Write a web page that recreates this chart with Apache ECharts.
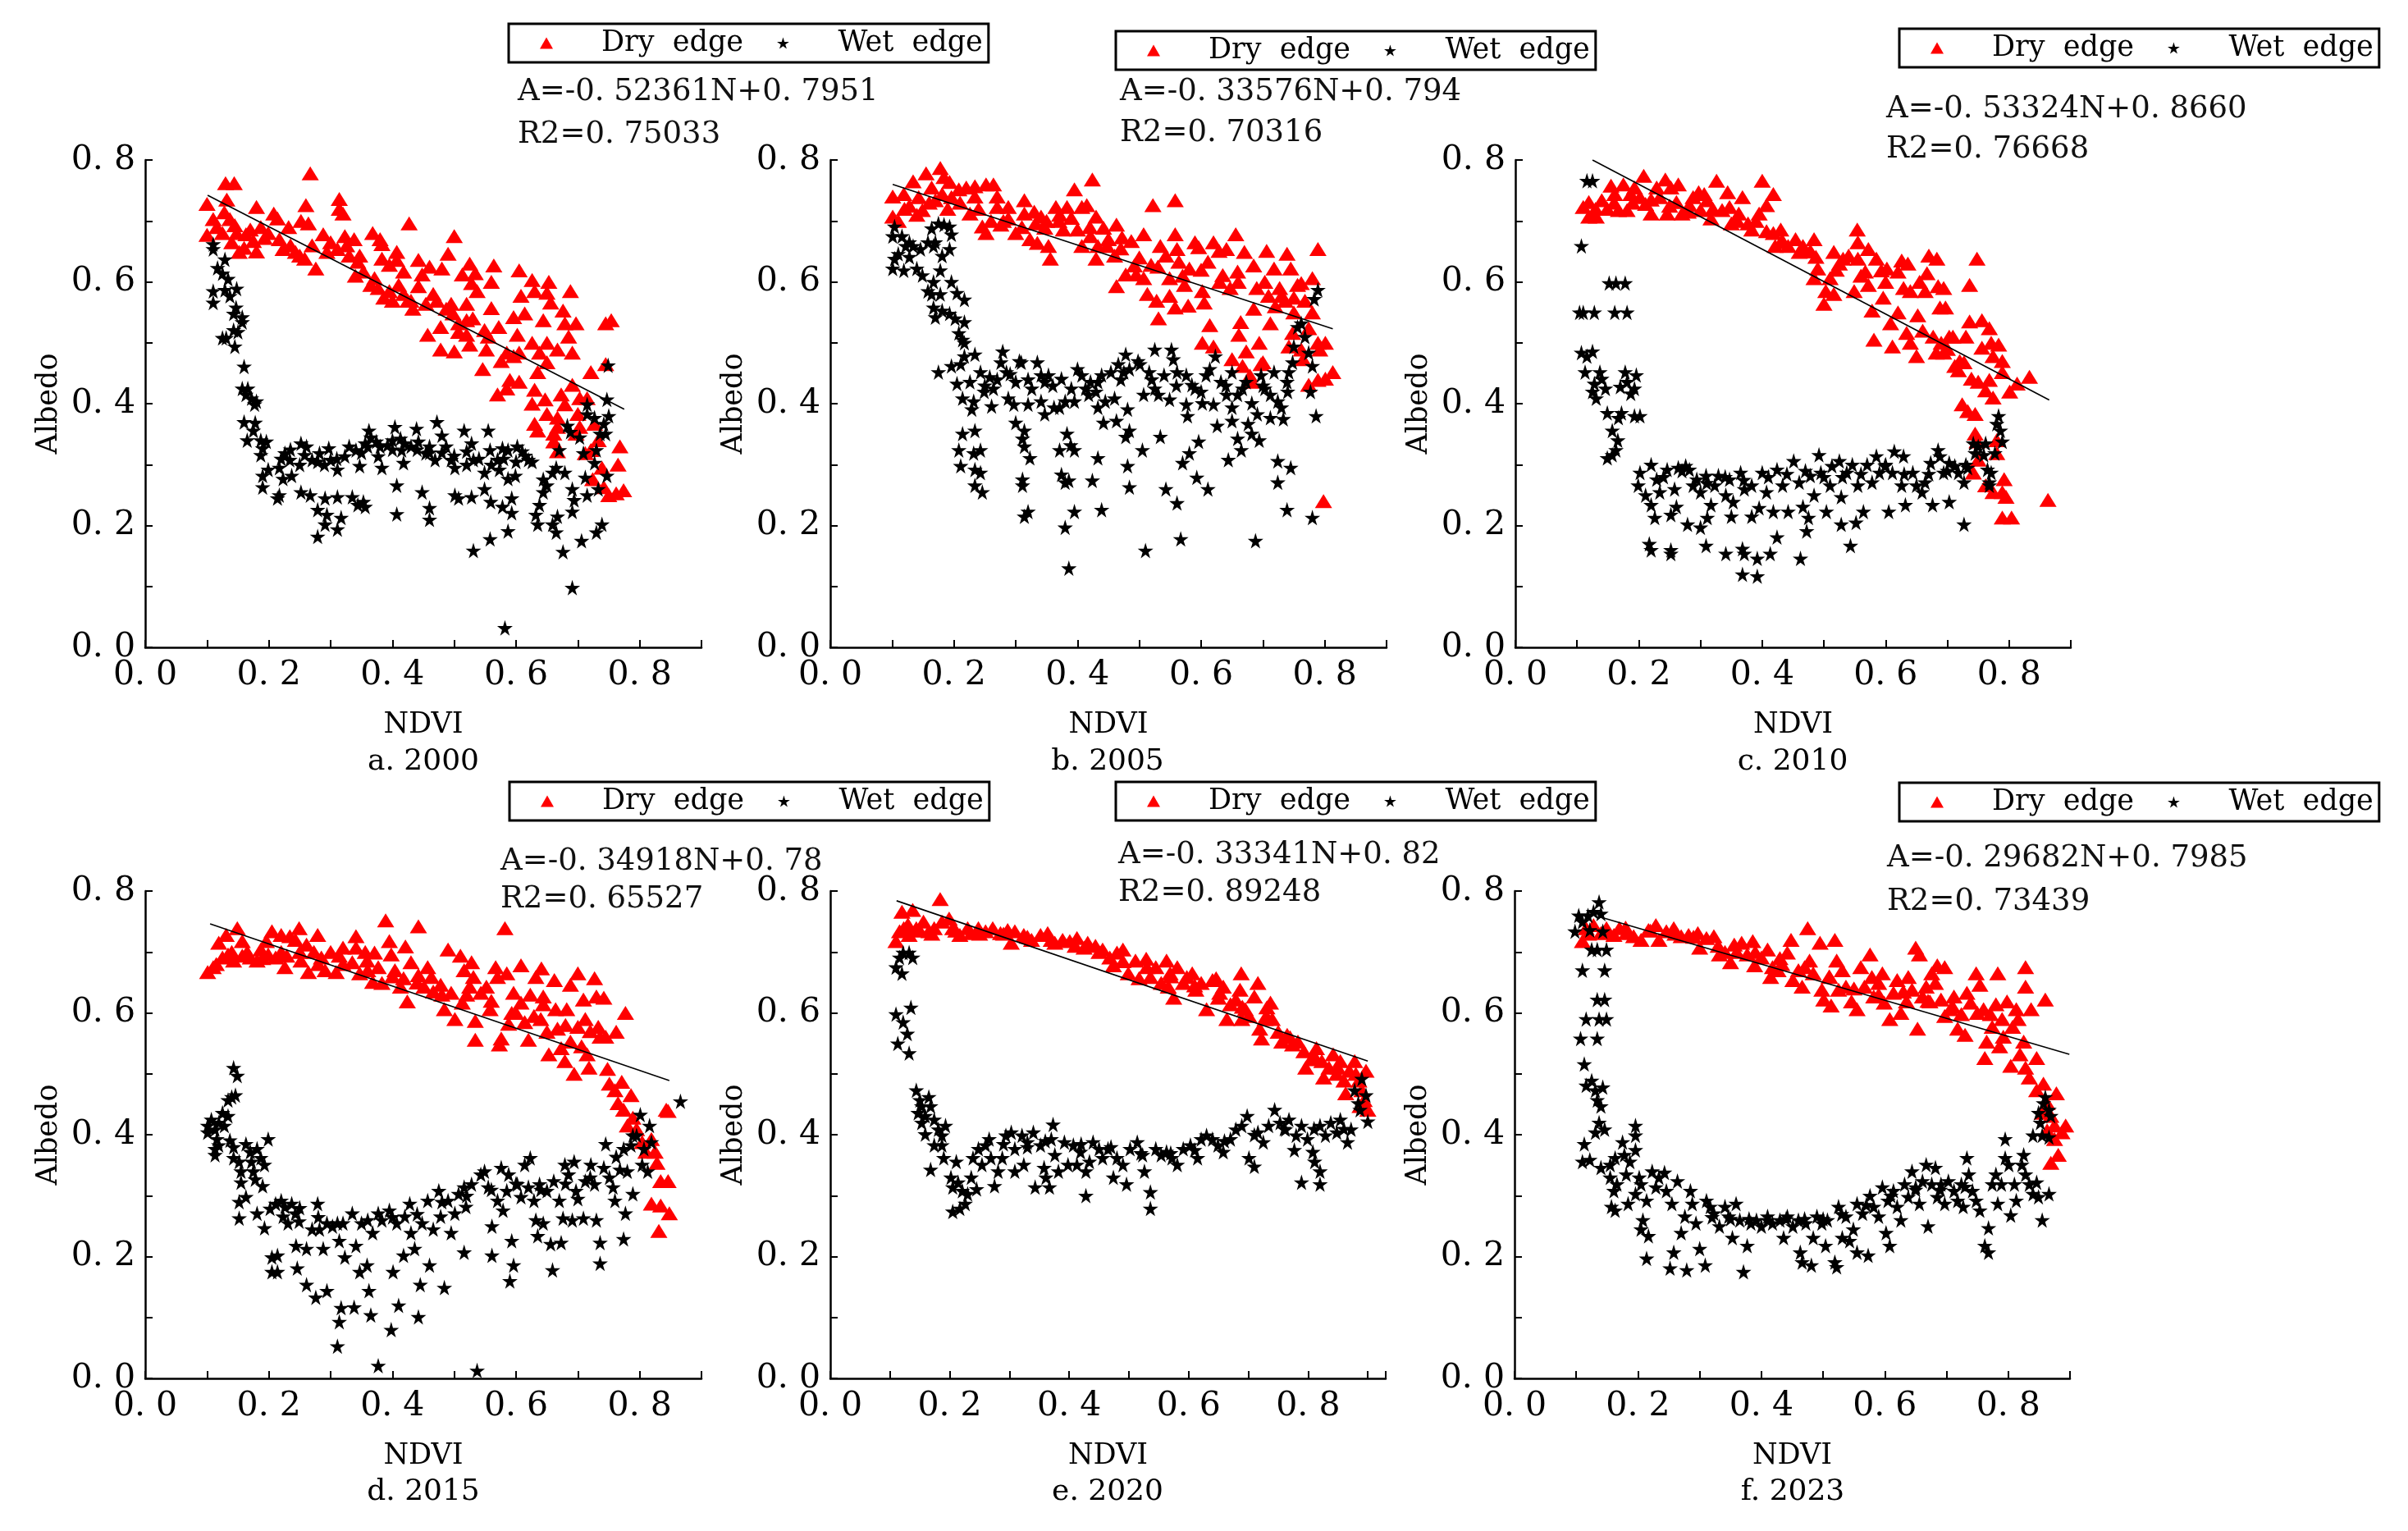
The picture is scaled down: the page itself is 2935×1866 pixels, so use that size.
<!DOCTYPE html>
<html lang="en">
<head>
<meta charset="UTF-8">
<title>Dry and wet edges, NDVI vs Albedo</title>
<script src="https://cdn.jsdelivr.net/npm/echarts@6/dist/echarts.min.js"></script>
<style>
  html, body { margin: 0; padding: 0; background: #fff; }
  #chart { width: 2935px; height: 1866px; }
</style>
</head>
<body>
<div id="chart"></div>
<script>
// panel texts
const panelCaptions = ['a. 2000', 'b. 2005', 'c. 2010', 'd. 2015', 'e. 2020', 'f. 2023'];
const equations = ['A=-0. 52361N+0. 7951', 'A=-0. 33576N+0. 794', 'A=-0. 53324N+0. 8660',
                   'A=-0. 34918N+0. 78', 'A=-0. 33341N+0. 82', 'A=-0. 29682N+0. 7985'];
const r2Texts = ['R2=0. 75033', 'R2=0. 70316', 'R2=0. 76668', 'R2=0. 65527', 'R2=0. 89248', 'R2=0. 73439'];
const xMax = [0.9, 0.9, 0.9, 0.9, 0.93, 0.9];
const yMax = 0.8;

// fitted lines as drawn: [start, end]
const fitLines = [
  [[0.101, 0.742], [0.775, 0.391]],
  [[0.101, 0.760], [0.813, 0.523]],
  [[0.125, 0.800], [0.865, 0.406]],
  [[0.105, 0.746], [0.848, 0.489]],
  [[0.111, 0.784], [0.900, 0.521]],
  [[0.137, 0.758], [0.899, 0.532]]
];

const dry2000 = [[0.10,0.728],[0.13,0.762],[0.144,0.762],[0.267,0.778],[0.132,0.735],[0.11,0.703],[0.10,0.677],[0.137,0.703],[0.148,0.68],[0.152,0.649],[0.18,0.723],[0.18,0.65],[0.208,0.712],[0.214,0.704],[0.232,0.69],[0.223,0.654],[0.25,0.643],[0.26,0.726],[0.252,0.70],[0.264,0.696],[0.276,0.622],[0.288,0.678],[0.30,0.665],[0.314,0.736],[0.314,0.72],[0.32,0.712],[0.323,0.675],[0.338,0.67],[0.33,0.643],[0.344,0.633],[0.368,0.68],[0.38,0.67],[0.383,0.662],[0.34,0.61],[0.365,0.595],[0.386,0.574],[0.407,0.649],[0.407,0.636],[0.427,0.696],[0.41,0.595],[0.425,0.569],[0.433,0.556],[0.442,0.636],[0.448,0.612],[0.46,0.625],[0.442,0.593],[0.466,0.58],[0.48,0.622],[0.50,0.675],[0.49,0.646],[0.495,0.564],[0.498,0.548],[0.513,0.612],[0.525,0.63],[0.534,0.614],[0.528,0.598],[0.537,0.585],[0.52,0.564],[0.564,0.627],[0.56,0.60],[0.56,0.557],[0.53,0.54],[0.52,0.513],[0.50,0.486],[0.478,0.489],[0.457,0.513],[0.478,0.526],[0.546,0.457],[0.552,0.489],[0.576,0.47],[0.585,0.484],[0.596,0.478],[0.605,0.484],[0.602,0.513],[0.596,0.542],[0.614,0.548],[0.605,0.619],[0.608,0.577],[0.626,0.603],[0.63,0.585],[0.644,0.537],[0.626,0.50],[0.65,0.50],[0.638,0.484],[0.653,0.60],[0.65,0.582],[0.656,0.566],[0.676,0.553],[0.679,0.532],[0.688,0.585],[0.697,0.532],[0.685,0.51],[0.691,0.484],[0.667,0.489],[0.65,0.468],[0.635,0.452],[0.585,0.425],[0.57,0.415],[0.59,0.439],[0.605,0.436],[0.63,0.423],[0.626,0.40],[0.647,0.407],[0.63,0.367],[0.635,0.356],[0.65,0.383],[0.667,0.377],[0.667,0.362],[0.661,0.351],[0.673,0.415],[0.679,0.399],[0.691,0.431],[0.703,0.409],[0.715,0.409],[0.70,0.383],[0.703,0.362],[0.721,0.452],[0.745,0.532],[0.754,0.537],[0.745,0.465],[0.727,0.367],[0.733,0.34],[0.739,0.295],[0.721,0.324],[0.724,0.276],[0.742,0.263],[0.75,0.25],[0.768,0.33],[0.765,0.30],[0.774,0.258],[0.762,0.253],[0.667,0.322],[0.661,0.338],[0.697,0.351],[0.712,0.319],[0.116,0.69],[0.125,0.68],[0.14,0.665],[0.163,0.678],[0.17,0.686],[0.175,0.667],[0.193,0.672],[0.199,0.68],[0.128,0.714],[0.145,0.693],[0.16,0.656],[0.187,0.69],[0.217,0.67],[0.235,0.66],[0.243,0.649],[0.258,0.638],[0.27,0.66],[0.294,0.649],[0.311,0.654],[0.326,0.66],[0.347,0.643],[0.353,0.617],[0.371,0.606],[0.377,0.59],[0.395,0.585],[0.40,0.569],[0.418,0.58],[0.43,0.569],[0.395,0.628],[0.383,0.638],[0.418,0.617],[0.454,0.564],[0.472,0.569],[0.487,0.556],[0.507,0.532],[0.52,0.537],[0.549,0.521],[0.555,0.51],[0.572,0.526],[0.507,0.518],[0.525,0.497]];

const wet2000 = [[0.11,0.662],[0.11,0.654],[0.129,0.637],[0.117,0.623],[0.125,0.614],[0.134,0.605],[0.11,0.585],[0.11,0.566],[0.129,0.587],[0.137,0.577],[0.148,0.589],[0.147,0.558],[0.143,0.548],[0.157,0.542],[0.157,0.534],[0.143,0.521],[0.15,0.518],[0.125,0.508],[0.131,0.508],[0.145,0.494],[0.16,0.461],[0.157,0.425],[0.166,0.425],[0.163,0.415],[0.172,0.409],[0.18,0.404],[0.177,0.399],[0.16,0.37],[0.178,0.369],[0.165,0.34],[0.175,0.356],[0.187,0.34],[0.196,0.338],[0.19,0.327],[0.187,0.316],[0.19,0.282],[0.19,0.263],[0.199,0.292],[0.214,0.245],[0.217,0.25],[0.217,0.295],[0.226,0.319],[0.234,0.308],[0.237,0.282],[0.223,0.277],[0.252,0.335],[0.261,0.33],[0.258,0.316],[0.27,0.308],[0.282,0.319],[0.279,0.305],[0.297,0.327],[0.30,0.308],[0.311,0.292],[0.33,0.33],[0.323,0.314],[0.341,0.324],[0.347,0.298],[0.362,0.356],[0.365,0.345],[0.356,0.335],[0.374,0.338],[0.377,0.314],[0.383,0.295],[0.392,0.332],[0.404,0.362],[0.40,0.34],[0.413,0.343],[0.415,0.324],[0.418,0.303],[0.43,0.33],[0.439,0.359],[0.442,0.338],[0.454,0.319],[0.46,0.33],[0.472,0.37],[0.469,0.308],[0.48,0.348],[0.487,0.33],[0.495,0.308],[0.501,0.295],[0.516,0.356],[0.52,0.322],[0.528,0.335],[0.531,0.308],[0.555,0.356],[0.558,0.324],[0.57,0.308],[0.578,0.327],[0.587,0.324],[0.602,0.33],[0.61,0.322],[0.62,0.308],[0.626,0.305],[0.599,0.282],[0.587,0.277],[0.573,0.292],[0.549,0.287],[0.252,0.255],[0.267,0.25],[0.291,0.245],[0.311,0.247],[0.335,0.247],[0.353,0.239],[0.279,0.226],[0.294,0.218],[0.291,0.202],[0.317,0.213],[0.311,0.194],[0.279,0.182],[0.344,0.234],[0.356,0.231],[0.407,0.219],[0.46,0.229],[0.46,0.21],[0.448,0.255],[0.407,0.266],[0.501,0.25],[0.507,0.245],[0.528,0.247],[0.531,0.159],[0.558,0.178],[0.587,0.191],[0.578,0.231],[0.593,0.221],[0.593,0.245],[0.559,0.239],[0.549,0.26],[0.582,0.032],[0.691,0.098],[0.635,0.202],[0.632,0.218],[0.638,0.234],[0.644,0.255],[0.65,0.266],[0.644,0.276],[0.659,0.287],[0.659,0.202],[0.665,0.189],[0.676,0.157],[0.667,0.215],[0.691,0.223],[0.694,0.242],[0.691,0.26],[0.679,0.287],[0.665,0.295],[0.67,0.324],[0.683,0.364],[0.688,0.354],[0.703,0.345],[0.709,0.319],[0.712,0.279],[0.715,0.25],[0.706,0.175],[0.73,0.189],[0.739,0.202],[0.733,0.26],[0.747,0.282],[0.73,0.324],[0.727,0.303],[0.736,0.351],[0.742,0.367],[0.745,0.351],[0.75,0.38],[0.747,0.407],[0.749,0.463],[0.715,0.399],[0.715,0.383],[0.727,0.377],[0.35,0.32],[0.36,0.33],[0.38,0.33],[0.40,0.325],[0.42,0.335],[0.44,0.325],[0.46,0.32],[0.48,0.32],[0.50,0.315],[0.52,0.30],[0.54,0.31],[0.56,0.30],[0.58,0.31],[0.60,0.305],[0.615,0.315],[0.31,0.31],[0.29,0.30],[0.25,0.30],[0.22,0.31],[0.235,0.325]];

const dry2005 = [[0.101,0.74],[0.101,0.707],[0.11,0.70],[0.119,0.744],[0.134,0.765],[0.155,0.778],[0.178,0.787],[0.184,0.772],[0.193,0.764],[0.143,0.739],[0.128,0.725],[0.149,0.718],[0.164,0.755],[0.17,0.734],[0.181,0.744],[0.196,0.739],[0.208,0.752],[0.22,0.755],[0.234,0.757],[0.234,0.74],[0.252,0.76],[0.264,0.76],[0.27,0.74],[0.226,0.712],[0.246,0.691],[0.252,0.68],[0.276,0.694],[0.27,0.723],[0.288,0.723],[0.288,0.704],[0.30,0.68],[0.314,0.734],[0.314,0.712],[0.323,0.67],[0.332,0.696],[0.341,0.707],[0.347,0.689],[0.335,0.664],[0.356,0.638],[0.353,0.659],[0.365,0.723],[0.371,0.71],[0.377,0.686],[0.383,0.723],[0.395,0.752],[0.407,0.723],[0.415,0.726],[0.424,0.768],[0.43,0.707],[0.40,0.686],[0.407,0.659],[0.421,0.675],[0.433,0.659],[0.442,0.689],[0.43,0.638],[0.448,0.659],[0.463,0.694],[0.472,0.673],[0.46,0.643],[0.463,0.593],[0.478,0.612],[0.487,0.667],[0.492,0.627],[0.495,0.612],[0.507,0.678],[0.507,0.606],[0.513,0.58],[0.522,0.726],[0.519,0.628],[0.528,0.569],[0.531,0.54],[0.534,0.659],[0.543,0.643],[0.549,0.606],[0.549,0.577],[0.558,0.734],[0.558,0.678],[0.561,0.654],[0.564,0.633],[0.558,0.558],[0.573,0.595],[0.581,0.622],[0.579,0.561],[0.59,0.665],[0.596,0.657],[0.602,0.585],[0.605,0.566],[0.602,0.50],[0.611,0.633],[0.614,0.529],[0.62,0.494],[0.62,0.665],[0.629,0.651],[0.635,0.611],[0.641,0.654],[0.647,0.59],[0.65,0.473],[0.656,0.678],[0.659,0.617],[0.661,0.513],[0.664,0.534],[0.67,0.649],[0.673,0.486],[0.667,0.462],[0.679,0.446],[0.682,0.436],[0.685,0.627],[0.685,0.556],[0.694,0.50],[0.70,0.468],[0.697,0.465],[0.703,0.60],[0.706,0.651],[0.709,0.577],[0.712,0.532],[0.718,0.622],[0.727,0.59],[0.73,0.577],[0.736,0.569],[0.739,0.646],[0.745,0.622],[0.742,0.494],[0.748,0.516],[0.75,0.574],[0.756,0.595],[0.762,0.598],[0.768,0.569],[0.762,0.489],[0.765,0.473],[0.774,0.431],[0.774,0.524],[0.78,0.606],[0.789,0.654],[0.789,0.50],[0.792,0.489],[0.801,0.50],[0.801,0.441],[0.789,0.439],[0.813,0.452],[0.798,0.24],[0.12,0.72],[0.14,0.71],[0.16,0.73],[0.19,0.72],[0.21,0.73],[0.24,0.72],[0.26,0.70],[0.28,0.70],[0.31,0.69],[0.33,0.715],[0.35,0.70],[0.37,0.70],[0.39,0.705],[0.42,0.69],[0.45,0.67],[0.47,0.655],[0.50,0.64],[0.53,0.625],[0.57,0.61],[0.60,0.62],[0.63,0.60],[0.66,0.60],[0.69,0.59],[0.72,0.56],[0.75,0.55],[0.78,0.55]];

const wet2005 = [[0.101,0.675],[0.104,0.691],[0.104,0.638],[0.101,0.622],[0.11,0.646],[0.116,0.675],[0.122,0.659],[0.128,0.665],[0.134,0.659],[0.119,0.619],[0.128,0.641],[0.14,0.622],[0.149,0.611],[0.146,0.654],[0.158,0.665],[0.164,0.688],[0.17,0.665],[0.167,0.659],[0.175,0.696],[0.184,0.694],[0.193,0.691],[0.196,0.678],[0.193,0.654],[0.181,0.643],[0.178,0.619],[0.167,0.60],[0.158,0.585],[0.164,0.58],[0.178,0.58],[0.196,0.60],[0.205,0.582],[0.217,0.571],[0.167,0.558],[0.17,0.542],[0.181,0.553],[0.193,0.548],[0.202,0.54],[0.217,0.534],[0.208,0.516],[0.214,0.505],[0.217,0.50],[0.217,0.478],[0.234,0.481],[0.175,0.452],[0.196,0.462],[0.211,0.465],[0.205,0.433],[0.214,0.409],[0.226,0.436],[0.229,0.391],[0.232,0.404],[0.243,0.452],[0.249,0.42],[0.258,0.444],[0.261,0.396],[0.264,0.425],[0.276,0.468],[0.279,0.486],[0.285,0.452],[0.288,0.409],[0.291,0.449],[0.30,0.436],[0.306,0.47],[0.309,0.468],[0.297,0.399],[0.32,0.399],[0.326,0.425],[0.335,0.468],[0.341,0.447],[0.347,0.436],[0.353,0.447],[0.347,0.383],[0.341,0.404],[0.362,0.394],[0.371,0.394],[0.374,0.441],[0.38,0.404],[0.395,0.404],[0.40,0.457],[0.407,0.447],[0.413,0.425],[0.418,0.415],[0.421,0.436],[0.433,0.436],[0.439,0.447],[0.433,0.394],[0.445,0.404],[0.46,0.409],[0.454,0.452],[0.466,0.465],[0.478,0.481],[0.475,0.452],[0.484,0.457],[0.498,0.47],[0.501,0.465],[0.507,0.415],[0.516,0.452],[0.525,0.489],[0.525,0.425],[0.531,0.415],[0.54,0.447],[0.552,0.489],[0.555,0.473],[0.561,0.452],[0.549,0.407],[0.576,0.447],[0.576,0.399],[0.578,0.38],[0.585,0.431],[0.59,0.425],[0.602,0.401],[0.608,0.447],[0.614,0.457],[0.623,0.478],[0.62,0.399],[0.626,0.364],[0.632,0.436],[0.641,0.415],[0.65,0.452],[0.65,0.394],[0.65,0.372],[0.659,0.415],[0.667,0.425],[0.673,0.436],[0.682,0.401],[0.676,0.367],[0.682,0.351],[0.691,0.383],[0.697,0.447],[0.703,0.425],[0.712,0.415],[0.712,0.377],[0.718,0.452],[0.724,0.404],[0.73,0.394],[0.733,0.375],[0.739,0.436],[0.742,0.452],[0.748,0.468],[0.75,0.494],[0.756,0.526],[0.762,0.532],[0.768,0.51],[0.774,0.484],[0.78,0.462],[0.777,0.42],[0.783,0.572],[0.789,0.587],[0.786,0.38],[0.208,0.324],[0.211,0.298],[0.214,0.351],[0.232,0.319],[0.234,0.356],[0.234,0.292],[0.243,0.324],[0.243,0.287],[0.234,0.266],[0.246,0.255],[0.30,0.369],[0.314,0.356],[0.311,0.343],[0.314,0.33],[0.323,0.311],[0.311,0.276],[0.311,0.266],[0.314,0.215],[0.32,0.223],[0.371,0.324],[0.374,0.284],[0.38,0.271],[0.386,0.274],[0.383,0.351],[0.389,0.332],[0.395,0.324],[0.38,0.197],[0.386,0.13],[0.395,0.223],[0.424,0.274],[0.433,0.311],[0.439,0.226],[0.442,0.369],[0.463,0.372],[0.478,0.346],[0.484,0.356],[0.481,0.391],[0.481,0.298],[0.484,0.263],[0.505,0.324],[0.51,0.159],[0.534,0.346],[0.543,0.26],[0.561,0.237],[0.567,0.178],[0.57,0.303],[0.581,0.319],[0.593,0.279],[0.596,0.338],[0.611,0.26],[0.644,0.308],[0.659,0.343],[0.665,0.324],[0.688,0.175],[0.694,0.34],[0.724,0.306],[0.724,0.271],[0.745,0.295],[0.739,0.226],[0.78,0.213],[0.25,0.43],[0.27,0.44],[0.32,0.44],[0.36,0.43],[0.39,0.425],[0.43,0.42],[0.47,0.44],[0.52,0.44],[0.56,0.43],[0.60,0.42],[0.64,0.43],[0.70,0.43],[0.74,0.42]];

const dry2010 = [[0.11,0.723],[0.119,0.731],[0.119,0.707],[0.131,0.707],[0.14,0.734],[0.149,0.72],[0.155,0.758],[0.161,0.744],[0.167,0.718],[0.175,0.76],[0.181,0.718],[0.187,0.744],[0.193,0.755],[0.208,0.774],[0.202,0.739],[0.211,0.728],[0.22,0.712],[0.229,0.755],[0.234,0.739],[0.243,0.768],[0.252,0.755],[0.264,0.76],[0.246,0.712],[0.261,0.731],[0.27,0.712],[0.282,0.726],[0.288,0.739],[0.297,0.747],[0.306,0.744],[0.30,0.718],[0.311,0.734],[0.317,0.704],[0.326,0.766],[0.335,0.718],[0.344,0.747],[0.347,0.723],[0.35,0.696],[0.362,0.712],[0.368,0.739],[0.377,0.696],[0.383,0.686],[0.40,0.766],[0.395,0.712],[0.407,0.726],[0.418,0.744],[0.407,0.683],[0.418,0.68],[0.43,0.686],[0.421,0.659],[0.433,0.667],[0.442,0.659],[0.454,0.67],[0.46,0.649],[0.466,0.659],[0.478,0.651],[0.484,0.67],[0.487,0.641],[0.49,0.622],[0.484,0.606],[0.50,0.564],[0.503,0.585],[0.516,0.58],[0.51,0.606],[0.516,0.649],[0.525,0.63],[0.531,0.638],[0.54,0.643],[0.554,0.686],[0.555,0.665],[0.555,0.638],[0.549,0.585],[0.567,0.617],[0.572,0.654],[0.572,0.595],[0.578,0.553],[0.581,0.505],[0.585,0.638],[0.593,0.619],[0.602,0.622],[0.596,0.574],[0.608,0.532],[0.611,0.494],[0.62,0.617],[0.626,0.635],[0.629,0.59],[0.636,0.63],[0.64,0.585],[0.634,0.516],[0.64,0.50],[0.65,0.478],[0.652,0.545],[0.655,0.60],[0.664,0.585],[0.67,0.643],[0.683,0.638],[0.667,0.614],[0.677,0.51],[0.682,0.484],[0.685,0.593],[0.69,0.50],[0.688,0.558],[0.694,0.59],[0.694,0.484],[0.697,0.558],[0.703,0.51],[0.709,0.51],[0.712,0.462],[0.718,0.455],[0.724,0.399],[0.727,0.468],[0.73,0.51],[0.733,0.388],[0.736,0.535],[0.736,0.595],[0.739,0.441],[0.745,0.383],[0.748,0.638],[0.75,0.436],[0.756,0.537],[0.756,0.492],[0.762,0.422],[0.768,0.524],[0.771,0.50],[0.774,0.41],[0.768,0.439],[0.774,0.478],[0.783,0.497],[0.789,0.47],[0.789,0.452],[0.801,0.42],[0.813,0.433],[0.833,0.444],[0.745,0.351],[0.748,0.338],[0.75,0.308],[0.742,0.287],[0.762,0.266],[0.774,0.255],[0.78,0.34],[0.78,0.319],[0.789,0.255],[0.795,0.247],[0.792,0.276],[0.789,0.213],[0.804,0.213],[0.863,0.242],[0.13,0.72],[0.16,0.73],[0.19,0.73],[0.22,0.735],[0.25,0.725],[0.28,0.715],[0.32,0.72],[0.36,0.70],[0.39,0.70],[0.43,0.665],[0.47,0.65],[0.52,0.62],[0.56,0.61],[0.60,0.60],[0.62,0.55],[0.66,0.52],[0.70,0.49],[0.72,0.47]];

const wet2010 = [[0.116,0.766],[0.125,0.766],[0.107,0.659],[0.104,0.55],[0.11,0.55],[0.128,0.55],[0.152,0.598],[0.163,0.598],[0.178,0.598],[0.161,0.55],[0.181,0.55],[0.107,0.484],[0.116,0.478],[0.125,0.486],[0.113,0.452],[0.128,0.433],[0.137,0.452],[0.14,0.441],[0.146,0.425],[0.131,0.409],[0.125,0.42],[0.149,0.385],[0.167,0.377],[0.172,0.385],[0.157,0.356],[0.166,0.34],[0.163,0.324],[0.149,0.311],[0.157,0.316],[0.17,0.428],[0.178,0.452],[0.181,0.436],[0.187,0.417],[0.196,0.447],[0.193,0.425],[0.193,0.38],[0.202,0.38],[0.202,0.287],[0.199,0.266],[0.211,0.25],[0.22,0.30],[0.22,0.234],[0.226,0.213],[0.229,0.276],[0.234,0.255],[0.246,0.292],[0.252,0.218],[0.258,0.26],[0.261,0.231],[0.264,0.295],[0.276,0.298],[0.282,0.292],[0.279,0.202],[0.288,0.266],[0.294,0.276],[0.30,0.255],[0.30,0.197],[0.309,0.282],[0.311,0.213],[0.317,0.234],[0.323,0.266],[0.329,0.282],[0.341,0.25],[0.347,0.276],[0.35,0.215],[0.353,0.239],[0.365,0.287],[0.371,0.26],[0.383,0.266],[0.383,0.215],[0.395,0.229],[0.40,0.287],[0.407,0.255],[0.418,0.223],[0.424,0.292],[0.433,0.266],[0.442,0.223],[0.451,0.306],[0.46,0.271],[0.466,0.231],[0.475,0.213],[0.478,0.282],[0.484,0.25],[0.492,0.316],[0.495,0.287],[0.504,0.223],[0.51,0.266],[0.513,0.298],[0.525,0.306],[0.528,0.247],[0.528,0.202],[0.537,0.287],[0.546,0.30],[0.552,0.205],[0.555,0.266],[0.564,0.223],[0.57,0.30],[0.578,0.271],[0.585,0.314],[0.59,0.287],[0.599,0.298],[0.605,0.223],[0.611,0.287],[0.614,0.322],[0.626,0.266],[0.629,0.314],[0.632,0.234],[0.644,0.287],[0.65,0.266],[0.659,0.255],[0.664,0.271],[0.673,0.303],[0.676,0.234],[0.685,0.324],[0.688,0.314],[0.694,0.287],[0.703,0.303],[0.703,0.239],[0.712,0.298],[0.718,0.287],[0.727,0.202],[0.727,0.271],[0.733,0.295],[0.742,0.335],[0.745,0.319],[0.75,0.33],[0.759,0.316],[0.762,0.335],[0.765,0.292],[0.771,0.287],[0.768,0.271],[0.777,0.319],[0.78,0.367],[0.783,0.38],[0.786,0.356],[0.789,0.338],[0.768,0.266],[0.217,0.17],[0.22,0.16],[0.252,0.16],[0.252,0.154],[0.309,0.167],[0.341,0.154],[0.368,0.162],[0.371,0.154],[0.392,0.146],[0.413,0.154],[0.424,0.181],[0.368,0.12],[0.392,0.117],[0.462,0.146],[0.472,0.191],[0.543,0.167],[0.24,0.28],[0.27,0.29],[0.31,0.27],[0.34,0.28],[0.37,0.275],[0.41,0.28],[0.44,0.285],[0.47,0.29],[0.50,0.28],[0.53,0.28],[0.56,0.285],[0.60,0.30],[0.63,0.285],[0.67,0.285],[0.70,0.29],[0.73,0.30]];

const dry2015 = [[0.101,0.667],[0.11,0.675],[0.119,0.715],[0.131,0.728],[0.125,0.691],[0.134,0.696],[0.149,0.739],[0.157,0.718],[0.143,0.686],[0.157,0.694],[0.17,0.691],[0.181,0.686],[0.187,0.704],[0.196,0.718],[0.205,0.734],[0.199,0.696],[0.211,0.691],[0.22,0.728],[0.226,0.675],[0.229,0.694],[0.234,0.726],[0.243,0.72],[0.249,0.739],[0.252,0.686],[0.261,0.712],[0.264,0.667],[0.273,0.70],[0.279,0.728],[0.285,0.691],[0.291,0.67],[0.30,0.70],[0.309,0.667],[0.314,0.694],[0.32,0.707],[0.335,0.683],[0.341,0.726],[0.341,0.707],[0.347,0.665],[0.356,0.70],[0.359,0.686],[0.368,0.651],[0.371,0.699],[0.377,0.675],[0.383,0.649],[0.389,0.752],[0.395,0.718],[0.398,0.696],[0.404,0.67],[0.413,0.643],[0.418,0.657],[0.421,0.709],[0.424,0.619],[0.43,0.683],[0.442,0.742],[0.442,0.662],[0.451,0.643],[0.457,0.675],[0.463,0.659],[0.466,0.635],[0.478,0.646],[0.484,0.606],[0.49,0.704],[0.495,0.633],[0.501,0.59],[0.51,0.694],[0.513,0.617],[0.516,0.67],[0.525,0.643],[0.528,0.683],[0.531,0.659],[0.534,0.587],[0.534,0.556],[0.543,0.633],[0.552,0.643],[0.558,0.606],[0.567,0.675],[0.57,0.659],[0.573,0.548],[0.576,0.558],[0.582,0.739],[0.585,0.665],[0.588,0.582],[0.593,0.60],[0.596,0.633],[0.608,0.678],[0.608,0.617],[0.614,0.585],[0.62,0.556],[0.623,0.63],[0.629,0.595],[0.632,0.659],[0.641,0.673],[0.644,0.627],[0.644,0.614],[0.65,0.569],[0.653,0.532],[0.662,0.654],[0.664,0.606],[0.667,0.574],[0.673,0.542],[0.679,0.521],[0.682,0.606],[0.688,0.646],[0.688,0.553],[0.694,0.50],[0.70,0.665],[0.70,0.577],[0.706,0.545],[0.709,0.622],[0.712,0.59],[0.715,0.532],[0.718,0.51],[0.727,0.657],[0.73,0.627],[0.733,0.577],[0.736,0.561],[0.742,0.625],[0.745,0.561],[0.748,0.508],[0.751,0.484],[0.76,0.473],[0.762,0.569],[0.765,0.452],[0.771,0.487],[0.774,0.441],[0.777,0.60],[0.78,0.415],[0.786,0.465],[0.789,0.428],[0.795,0.409],[0.804,0.388],[0.81,0.372],[0.819,0.393],[0.825,0.372],[0.828,0.354],[0.834,0.324],[0.846,0.324],[0.819,0.287],[0.834,0.284],[0.848,0.271],[0.831,0.242],[0.843,0.441],[0.846,0.439],[0.115,0.68],[0.14,0.70],[0.165,0.70],[0.19,0.69],[0.22,0.70],[0.25,0.70],[0.28,0.68],[0.32,0.68],[0.36,0.67],[0.40,0.66],[0.44,0.65],[0.48,0.63],[0.52,0.63],[0.56,0.62],[0.60,0.60],[0.64,0.59],[0.68,0.58],[0.72,0.57]];

const wet2015 = [[0.101,0.415],[0.101,0.404],[0.107,0.425],[0.113,0.409],[0.119,0.42],[0.125,0.436],[0.128,0.415],[0.116,0.393],[0.113,0.377],[0.113,0.367],[0.119,0.383],[0.134,0.431],[0.134,0.457],[0.14,0.462],[0.146,0.465],[0.143,0.51],[0.149,0.497],[0.137,0.391],[0.143,0.38],[0.143,0.362],[0.152,0.356],[0.155,0.34],[0.155,0.322],[0.152,0.29],[0.152,0.263],[0.163,0.298],[0.163,0.385],[0.17,0.372],[0.172,0.356],[0.175,0.34],[0.178,0.327],[0.181,0.377],[0.187,0.362],[0.193,0.351],[0.19,0.316],[0.199,0.393],[0.181,0.271],[0.193,0.247],[0.202,0.279],[0.205,0.199],[0.205,0.175],[0.214,0.202],[0.214,0.175],[0.211,0.287],[0.22,0.292],[0.226,0.282],[0.223,0.266],[0.231,0.255],[0.237,0.287],[0.243,0.271],[0.249,0.258],[0.244,0.218],[0.246,0.181],[0.261,0.213],[0.261,0.154],[0.27,0.245],[0.279,0.287],[0.282,0.245],[0.288,0.213],[0.276,0.133],[0.294,0.144],[0.294,0.255],[0.303,0.25],[0.311,0.255],[0.314,0.226],[0.323,0.199],[0.317,0.116],[0.314,0.093],[0.311,0.053],[0.335,0.271],[0.338,0.117],[0.341,0.218],[0.347,0.175],[0.35,0.255],[0.359,0.186],[0.362,0.144],[0.365,0.104],[0.368,0.239],[0.377,0.271],[0.383,0.26],[0.377,0.021],[0.395,0.276],[0.398,0.08],[0.401,0.175],[0.407,0.255],[0.41,0.12],[0.418,0.202],[0.42,0.266],[0.428,0.287],[0.43,0.239],[0.436,0.213],[0.442,0.101],[0.445,0.154],[0.448,0.255],[0.457,0.292],[0.46,0.186],[0.466,0.245],[0.475,0.308],[0.478,0.266],[0.484,0.149],[0.49,0.292],[0.495,0.239],[0.501,0.271],[0.507,0.303],[0.516,0.314],[0.516,0.207],[0.519,0.282],[0.528,0.319],[0.537,0.013],[0.543,0.335],[0.549,0.34],[0.555,0.314],[0.561,0.25],[0.561,0.202],[0.57,0.292],[0.576,0.346],[0.579,0.276],[0.585,0.308],[0.588,0.335],[0.59,0.16],[0.593,0.226],[0.596,0.186],[0.602,0.319],[0.608,0.298],[0.614,0.351],[0.62,0.314],[0.623,0.362],[0.629,0.292],[0.632,0.26],[0.635,0.234],[0.638,0.319],[0.644,0.255],[0.65,0.308],[0.656,0.221],[0.659,0.178],[0.661,0.324],[0.67,0.292],[0.673,0.223],[0.676,0.263],[0.679,0.351],[0.685,0.335],[0.691,0.26],[0.694,0.356],[0.697,0.308],[0.70,0.295],[0.709,0.263],[0.712,0.324],[0.721,0.351],[0.727,0.319],[0.73,0.26],[0.736,0.223],[0.736,0.189],[0.742,0.346],[0.745,0.385],[0.751,0.33],[0.757,0.314],[0.76,0.292],[0.762,0.364],[0.768,0.343],[0.774,0.377],[0.774,0.229],[0.777,0.271],[0.78,0.34],[0.786,0.383],[0.789,0.399],[0.789,0.303],[0.795,0.399],[0.801,0.433],[0.804,0.351],[0.807,0.377],[0.813,0.34],[0.816,0.415],[0.819,0.388],[0.866,0.455],[0.25,0.28],[0.28,0.265],[0.32,0.255],[0.36,0.26],[0.40,0.265],[0.44,0.27],[0.48,0.29],[0.52,0.30],[0.56,0.31],[0.60,0.32],[0.64,0.31],[0.68,0.32],[0.72,0.33]];

const dry2020 = [[0.11,0.718],[0.12,0.766],[0.138,0.769],[0.184,0.787],[0.116,0.734],[0.123,0.739],[0.132,0.728],[0.144,0.739],[0.156,0.75],[0.165,0.734],[0.174,0.739],[0.187,0.75],[0.199,0.755],[0.205,0.739],[0.217,0.728],[0.23,0.739],[0.236,0.731],[0.248,0.739],[0.26,0.734],[0.272,0.739],[0.285,0.731],[0.297,0.736],[0.303,0.715],[0.309,0.734],[0.324,0.728],[0.337,0.72],[0.352,0.728],[0.364,0.731],[0.376,0.715],[0.389,0.72],[0.401,0.718],[0.413,0.723],[0.425,0.707],[0.431,0.715],[0.444,0.71],[0.456,0.704],[0.468,0.691],[0.474,0.678],[0.48,0.699],[0.49,0.704],[0.499,0.665],[0.511,0.686],[0.517,0.657],[0.529,0.689],[0.536,0.659],[0.545,0.675],[0.554,0.649],[0.563,0.686],[0.569,0.665],[0.575,0.625],[0.581,0.675],[0.591,0.649],[0.597,0.659],[0.606,0.665],[0.612,0.638],[0.621,0.649],[0.63,0.606],[0.64,0.654],[0.646,0.657],[0.652,0.633],[0.658,0.643],[0.664,0.59],[0.67,0.614],[0.679,0.622],[0.686,0.638],[0.689,0.59],[0.695,0.606],[0.701,0.595],[0.71,0.627],[0.716,0.649],[0.719,0.574],[0.722,0.558],[0.728,0.59],[0.731,0.609],[0.737,0.617],[0.74,0.59],[0.75,0.569],[0.756,0.553],[0.765,0.564],[0.774,0.548],[0.783,0.553],[0.793,0.537],[0.796,0.51],[0.805,0.524],[0.814,0.542],[0.823,0.521],[0.826,0.494],[0.835,0.51],[0.842,0.532],[0.848,0.50],[0.854,0.521],[0.86,0.489],[0.863,0.468],[0.869,0.505],[0.878,0.521],[0.885,0.489],[0.89,0.473],[0.897,0.505],[0.90,0.441],[0.894,0.457],[0.887,0.447],[0.688,0.665],[0.566,0.643],[0.13,0.745],[0.15,0.735],[0.17,0.73],[0.21,0.735],[0.25,0.73],[0.29,0.73],[0.33,0.725],[0.37,0.72],[0.41,0.71],[0.45,0.70],[0.49,0.685],[0.53,0.675],[0.57,0.66],[0.61,0.645],[0.65,0.625],[0.69,0.61],[0.73,0.595],[0.77,0.56],[0.81,0.53],[0.85,0.51],[0.88,0.50]];

const wet2020 = [[0.11,0.675],[0.116,0.691],[0.122,0.699],[0.132,0.699],[0.138,0.691],[0.12,0.665],[0.11,0.598],[0.113,0.55],[0.122,0.585],[0.129,0.566],[0.135,0.609],[0.132,0.534],[0.144,0.473],[0.15,0.457],[0.153,0.447],[0.159,0.431],[0.165,0.462],[0.168,0.447],[0.147,0.436],[0.153,0.42],[0.159,0.401],[0.174,0.425],[0.181,0.409],[0.187,0.399],[0.174,0.383],[0.187,0.383],[0.193,0.415],[0.19,0.362],[0.168,0.343],[0.202,0.33],[0.205,0.314],[0.211,0.356],[0.214,0.322],[0.221,0.308],[0.205,0.274],[0.217,0.279],[0.226,0.287],[0.23,0.303],[0.236,0.33],[0.239,0.362],[0.245,0.311],[0.248,0.377],[0.254,0.351],[0.26,0.383],[0.266,0.393],[0.269,0.362],[0.275,0.316],[0.281,0.34],[0.288,0.362],[0.294,0.399],[0.303,0.404],[0.309,0.377],[0.309,0.34],[0.321,0.399],[0.324,0.351],[0.33,0.388],[0.34,0.404],[0.343,0.314],[0.352,0.383],[0.358,0.346],[0.361,0.33],[0.367,0.314],[0.37,0.393],[0.373,0.417],[0.376,0.367],[0.382,0.34],[0.392,0.388],[0.398,0.351],[0.407,0.383],[0.413,0.351],[0.419,0.372],[0.428,0.30],[0.428,0.34],[0.434,0.356],[0.44,0.388],[0.45,0.377],[0.456,0.362],[0.465,0.377],[0.474,0.33],[0.48,0.362],[0.49,0.351],[0.496,0.319],[0.502,0.377],[0.514,0.388],[0.523,0.367],[0.526,0.34],[0.536,0.306],[0.536,0.279],[0.545,0.377],[0.554,0.367],[0.563,0.372],[0.572,0.362],[0.581,0.351],[0.591,0.377],[0.603,0.383],[0.615,0.362],[0.621,0.393],[0.63,0.399],[0.64,0.393],[0.649,0.383],[0.658,0.372],[0.67,0.393],[0.679,0.409],[0.689,0.415],[0.698,0.431],[0.701,0.362],[0.71,0.348],[0.716,0.404],[0.725,0.388],[0.734,0.415],[0.744,0.441],[0.753,0.42],[0.762,0.409],[0.768,0.425],[0.777,0.375],[0.78,0.399],[0.789,0.415],[0.789,0.322],[0.799,0.393],[0.808,0.372],[0.811,0.356],[0.82,0.34],[0.82,0.319],[0.82,0.415],[0.829,0.399],[0.838,0.42],[0.848,0.404],[0.854,0.425],[0.866,0.388],[0.872,0.409],[0.878,0.473],[0.884,0.452],[0.89,0.492],[0.897,0.465],[0.90,0.422],[0.887,0.441],[0.29,0.385],[0.33,0.38],[0.36,0.39],[0.42,0.385],[0.47,0.38],[0.52,0.37],[0.57,0.37],[0.61,0.375],[0.66,0.39],[0.71,0.40],[0.76,0.41],[0.81,0.41],[0.86,0.41]];

const dry2023 = [[0.11,0.718],[0.116,0.739],[0.128,0.744],[0.14,0.731],[0.149,0.739],[0.161,0.728],[0.17,0.739],[0.181,0.731],[0.193,0.726],[0.205,0.72],[0.217,0.736],[0.229,0.744],[0.234,0.72],[0.246,0.734],[0.258,0.739],[0.27,0.726],[0.282,0.728],[0.297,0.731],[0.30,0.707],[0.311,0.723],[0.323,0.726],[0.332,0.696],[0.341,0.70],[0.35,0.683],[0.356,0.712],[0.368,0.715],[0.377,0.696],[0.386,0.718],[0.389,0.678],[0.40,0.691],[0.41,0.704],[0.415,0.659],[0.418,0.675],[0.427,0.67],[0.433,0.68],[0.442,0.699],[0.448,0.72],[0.451,0.654],[0.46,0.67],[0.466,0.643],[0.475,0.739],[0.478,0.686],[0.484,0.665],[0.495,0.715],[0.498,0.638],[0.501,0.622],[0.51,0.659],[0.513,0.612],[0.519,0.72],[0.522,0.686],[0.525,0.638],[0.531,0.67],[0.537,0.643],[0.546,0.619],[0.555,0.606],[0.561,0.675],[0.567,0.643],[0.576,0.696],[0.579,0.659],[0.582,0.627],[0.59,0.649],[0.596,0.665],[0.599,0.617],[0.608,0.59],[0.614,0.633],[0.62,0.654],[0.626,0.60],[0.635,0.619],[0.638,0.659],[0.644,0.638],[0.65,0.707],[0.653,0.574],[0.656,0.696],[0.661,0.627],[0.667,0.643],[0.673,0.619],[0.676,0.665],[0.682,0.649],[0.685,0.678],[0.691,0.622],[0.697,0.675],[0.697,0.595],[0.706,0.606],[0.712,0.627],[0.718,0.574],[0.724,0.598],[0.73,0.564],[0.733,0.633],[0.739,0.617],[0.748,0.665],[0.754,0.646],[0.76,0.606],[0.762,0.526],[0.765,0.553],[0.771,0.598],[0.774,0.577],[0.78,0.614],[0.783,0.665],[0.786,0.545],[0.792,0.561],[0.798,0.619],[0.804,0.513],[0.807,0.577],[0.813,0.606],[0.816,0.59],[0.819,0.532],[0.825,0.553],[0.828,0.675],[0.828,0.643],[0.828,0.51],[0.834,0.494],[0.837,0.606],[0.846,0.526],[0.846,0.473],[0.857,0.484],[0.86,0.622],[0.863,0.452],[0.869,0.431],[0.875,0.415],[0.878,0.468],[0.875,0.393],[0.887,0.404],[0.893,0.415],[0.881,0.367],[0.869,0.354],[0.855,0.436],[0.863,0.407],[0.12,0.73],[0.15,0.735],[0.18,0.74],[0.22,0.735],[0.26,0.73],[0.29,0.725],[0.33,0.71],[0.36,0.70],[0.39,0.70],[0.43,0.69],[0.47,0.675],[0.51,0.66],[0.55,0.64],[0.59,0.63],[0.63,0.635],[0.67,0.62],[0.71,0.61],[0.75,0.60],[0.79,0.59]];

const wet2023 = [[0.098,0.734],[0.104,0.76],[0.11,0.75],[0.119,0.76],[0.128,0.766],[0.137,0.782],[0.14,0.763],[0.122,0.736],[0.143,0.734],[0.125,0.704],[0.134,0.704],[0.149,0.704],[0.11,0.67],[0.146,0.67],[0.134,0.622],[0.146,0.622],[0.116,0.59],[0.137,0.59],[0.149,0.59],[0.107,0.558],[0.134,0.558],[0.113,0.516],[0.116,0.481],[0.125,0.489],[0.131,0.473],[0.134,0.457],[0.14,0.447],[0.143,0.478],[0.137,0.42],[0.146,0.409],[0.131,0.404],[0.113,0.385],[0.11,0.356],[0.122,0.359],[0.14,0.346],[0.155,0.351],[0.155,0.33],[0.163,0.362],[0.166,0.319],[0.161,0.308],[0.157,0.282],[0.163,0.276],[0.175,0.388],[0.178,0.367],[0.187,0.356],[0.181,0.335],[0.184,0.287],[0.196,0.415],[0.196,0.399],[0.196,0.375],[0.202,0.33],[0.196,0.303],[0.205,0.319],[0.208,0.26],[0.205,0.245],[0.217,0.234],[0.214,0.197],[0.214,0.292],[0.223,0.34],[0.229,0.314],[0.234,0.33],[0.243,0.338],[0.246,0.308],[0.255,0.287],[0.258,0.207],[0.252,0.181],[0.264,0.324],[0.27,0.239],[0.276,0.266],[0.279,0.178],[0.285,0.308],[0.288,0.287],[0.294,0.255],[0.30,0.213],[0.309,0.186],[0.311,0.292],[0.317,0.282],[0.323,0.271],[0.332,0.25],[0.341,0.282],[0.347,0.266],[0.353,0.231],[0.359,0.287],[0.365,0.26],[0.371,0.175],[0.377,0.218],[0.383,0.255],[0.392,0.26],[0.40,0.25],[0.41,0.266],[0.418,0.255],[0.43,0.26],[0.436,0.231],[0.442,0.266],[0.451,0.25],[0.46,0.26],[0.463,0.207],[0.466,0.191],[0.472,0.255],[0.481,0.186],[0.484,0.231],[0.49,0.266],[0.498,0.255],[0.504,0.218],[0.507,0.26],[0.519,0.191],[0.522,0.183],[0.525,0.282],[0.531,0.231],[0.537,0.266],[0.543,0.226],[0.549,0.245],[0.555,0.207],[0.555,0.287],[0.564,0.271],[0.573,0.202],[0.576,0.30],[0.582,0.282],[0.59,0.266],[0.596,0.314],[0.602,0.239],[0.605,0.292],[0.608,0.218],[0.614,0.308],[0.62,0.282],[0.626,0.26],[0.632,0.319],[0.638,0.298],[0.644,0.34],[0.65,0.314],[0.656,0.287],[0.661,0.324],[0.667,0.351],[0.67,0.25],[0.676,0.319],[0.682,0.346],[0.685,0.298],[0.691,0.319],[0.697,0.287],[0.703,0.324],[0.712,0.308],[0.718,0.292],[0.724,0.319],[0.727,0.282],[0.733,0.362],[0.736,0.335],[0.742,0.308],[0.748,0.292],[0.754,0.276],[0.762,0.218],[0.768,0.207],[0.768,0.247],[0.774,0.319],[0.78,0.335],[0.783,0.287],[0.789,0.319],[0.795,0.393],[0.795,0.362],[0.801,0.351],[0.804,0.268],[0.81,0.319],[0.813,0.292],[0.822,0.351],[0.825,0.367],[0.828,0.335],[0.834,0.319],[0.84,0.303],[0.846,0.322],[0.849,0.298],[0.855,0.26],[0.866,0.303],[0.849,0.436],[0.852,0.42],[0.857,0.452],[0.86,0.462],[0.866,0.441],[0.869,0.431],[0.855,0.399],[0.866,0.396],[0.84,0.399],[0.32,0.265],[0.35,0.262],[0.38,0.262],[0.41,0.26],[0.44,0.262],[0.47,0.262],[0.50,0.262],[0.53,0.27],[0.57,0.285],[0.61,0.30],[0.65,0.31],[0.69,0.31],[0.73,0.315]];

const dryData = [dry2000, dry2005, dry2010, dry2015, dry2020, dry2023];
const wetData = [wet2000, wet2005, wet2010, wet2015, wet2020, wet2023];

// layout (pixels)
const grids = [
  { left: 177,  top: 195,  width: 678, height: 594 },
  { left: 1012, top: 195,  width: 678, height: 594 },
  { left: 1847, top: 195,  width: 677, height: 594 },
  { left: 177,  top: 1086, width: 678, height: 594 },
  { left: 1012, top: 1086, width: 677, height: 594 },
  { left: 1846, top: 1086, width: 677, height: 594 }
];
const legendPos = [[620, 29], [1360, 38], [2315, 35], [621, 953], [1360, 953], [2315, 954]];
const eqPos = [[631, 112, 164], [1365, 112, 162], [2299, 133, 182], [610, 1050, 1096], [1363, 1042, 1088], [2300, 1046, 1099]];
const captionPos = [[516, 929], [1350, 929], [2185, 929], [516, 1819], [1350, 1819], [2185, 1819]];

const FONT = 'DejaVu Serif';
const STAR = 'path://M50,0 L61,35 L98,35 L68,57 L79,91 L50,70 L21,91 L32,57 L2,35 L39,35 Z';

function tickLabel(v) {
  const t = Math.round(v * 10);
  if (t % 2 !== 0 || Math.abs(v * 10 - t) > 1e-6) return '';
  return v.toFixed(1).replace('.', '. ');
}

const axisCommon = {
  type: 'value',
  interval: 0.1,
  nameLocation: 'middle',
  nameTextStyle: { fontFamily: FONT, fontSize: 35, color: '#000' },
  axisLine: { show: true, onZero: false, lineStyle: { color: '#000', width: 2.5 } },
  axisTick: { show: true, inside: true, length: 9, lineStyle: { color: '#000', width: 2 } },
  axisLabel: { formatter: tickLabel, fontFamily: FONT, fontSize: 41, color: '#000' },
  splitLine: { show: false }
};

const xAxes = [], yAxes = [], series = [], legends = [], graphics = [];

for (let i = 0; i < 6; i++) {
  xAxes.push(Object.assign({}, axisCommon, {
    gridIndex: i, min: 0, max: xMax[i], name: 'NDVI', nameGap: 77,
    axisLabel: Object.assign({}, axisCommon.axisLabel, { margin: 14 })
  }));
  yAxes.push(Object.assign({}, axisCommon, {
    gridIndex: i, min: 0, max: yMax, name: 'Albedo', nameGap: 100, nameRotate: 90,
    axisLabel: Object.assign({}, axisCommon.axisLabel, { margin: 12 })
  }));

  series.push({
    type: 'scatter', name: 'Dry edge', xAxisIndex: i, yAxisIndex: i,
    data: dryData[i], symbol: 'triangle', symbolSize: [21, 17],
    itemStyle: { color: '#ff0000', opacity: 1 }, z: 2
  });
  series.push({
    type: 'scatter', name: 'Wet edge', xAxisIndex: i, yAxisIndex: i,
    data: wetData[i], symbol: STAR, symbolSize: 19,
    itemStyle: { color: '#000', opacity: 1 }, z: 3
  });
  series.push({
    type: 'line', name: 'Fit', xAxisIndex: i, yAxisIndex: i,
    data: fitLines[i], symbol: 'none', silent: true,
    lineStyle: { color: '#000', width: 1.6 }, z: 4
  });

  legends.push({
    left: legendPos[i][0], top: legendPos[i][1], orient: 'horizontal',
    data: [{ name: 'Dry edge', icon: 'triangle' }, { name: 'Wet edge', icon: STAR }],
    formatter: name => name.replace(' ', '  '),
    itemWidth: 16, itemHeight: 14, itemGap: 41,
    padding: [6, 7, 6, 38],
    borderColor: '#000', borderWidth: 3, borderRadius: 0,
    textStyle: { fontFamily: FONT, fontSize: 35, color: '#000', padding: [0, 0, 0, 54] },
    selectedMode: false
  });

  graphics.push({
    type: 'text', x: eqPos[i][0], y: eqPos[i][1],
    style: { text: equations[i], fontFamily: FONT, fontSize: 37, fill: '#111', textAlign: 'left', textVerticalAlign: 'middle' }
  });
  graphics.push({
    type: 'text', x: eqPos[i][0], y: eqPos[i][2],
    style: { text: r2Texts[i], fontFamily: FONT, fontSize: 37, fill: '#111', textAlign: 'left', textVerticalAlign: 'middle' }
  });
  graphics.push({
    type: 'text', x: captionPos[i][0], y: captionPos[i][1],
    style: { text: panelCaptions[i], fontFamily: FONT, fontSize: 36, fill: '#000', textAlign: 'center', textVerticalAlign: 'middle' }
  });
}

const chart = echarts.init(document.getElementById('chart'), null, { renderer: 'canvas' });
chart.setOption({
  animation: false,
  backgroundColor: '#fff',
  grid: grids,
  xAxis: xAxes,
  yAxis: yAxes,
  legend: legends,
  series: series,
  graphic: graphics
});
</script>
</body>
</html>
